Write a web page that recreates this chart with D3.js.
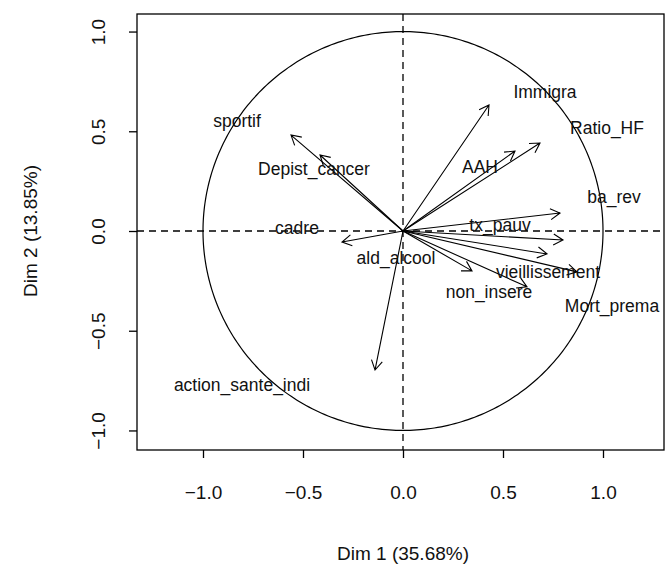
<!DOCTYPE html>
<html><head><meta charset="utf-8">
<script src="https://cdn.jsdelivr.net/npm/d3@7"></script>
<style>html,body{margin:0;padding:0;background:#fff;}svg{display:block;font-family:"Liberation Sans",Arial,sans-serif;}</style>
</head><body>
<svg id="chart" width="665" height="580"></svg>
<script>
// Variables (PCA correlation circle)
const variables = ["sportif","Depist_cancer","cadre","action_sante_indi","Immigra","AAH","Ratio_HF","ba_rev","tx_pauv","Mort_prema","vieillissement","ald_alcool","non_insere"];
const dim1 = [-0.56,-0.415,-0.305,-0.14,0.43,0.56,0.685,0.785,0.80,0.72,0.87,0.345,0.62];
const dim2 = [0.481,0.381,-0.055,-0.697,0.632,0.401,0.441,0.09,-0.045,-0.115,-0.205,-0.20,-0.28];
// label anchor points (data units), as placed in the reference
const labelDim1 = [-0.83,-0.445,-0.53,-0.805,0.71,0.385,1.02,1.055,0.485,1.045,0.725,-0.035,0.43];
const labelDim2 = [0.551,0.311,0.015,-0.772,0.697,0.321,0.516,0.17,0.03,-0.376,-0.205,-0.135,-0.306];
const tickValues = [-1.0,-0.5,0.0,0.5,1.0];
const xTitle = "Dim 1 (35.68%)";
const yTitle = "Dim 2 (13.85%)";

const svg = d3.select("#chart");
const L = 137, R = 664, T = 14, B = 450;
const x = d3.scaleLinear().domain([-1.33, 1.305]).range([L, R]);
const y = d3.scaleLinear().domain([-1.098, 1.088]).range([B, T]);

// circle
const circ = d3.range(0, 361).map(a => [Math.cos(a*Math.PI/180), Math.sin(a*Math.PI/180)]);
svg.append("path").attr("d", d3.line().x(d=>x(d[0])).y(d=>y(d[1]))(circ))
  .attr("fill","none").attr("stroke","#000").attr("stroke-width",1.2);

// dashed zero lines
svg.append("line").attr("x1",L).attr("x2",R).attr("y1",y(0)).attr("y2",y(0))
  .attr("stroke","#000").attr("stroke-width",1.3).attr("stroke-dasharray","7,5");
svg.append("line").attr("x1",x(0)).attr("x2",x(0)).attr("y1",T).attr("y2",B)
  .attr("stroke","#000").attr("stroke-width",1.3).attr("stroke-dasharray","7,5");

// arrows
const headLen = 11, headAng = 30*Math.PI/180;
variables.forEach((v,i)=>{
  const x0=x(0), y0=y(0), x1=x(dim1[i]), y1=y(dim2[i]);
  const ang = Math.atan2(y1-y0, x1-x0);
  const a1 = ang+Math.PI-headAng, a2 = ang+Math.PI+headAng;
  const p = `M${x0},${y0}L${x1},${y1}M${x1+headLen*Math.cos(a1)},${y1+headLen*Math.sin(a1)}L${x1},${y1}L${x1+headLen*Math.cos(a2)},${y1+headLen*Math.sin(a2)}`;
  svg.append("path").attr("d",p).attr("fill","none").attr("stroke","#000").attr("stroke-width",1.1);
});

// labels
variables.forEach((v,i)=>{
  svg.append("text").attr("x",x(labelDim1[i])).attr("y",y(labelDim2[i]))
    .attr("text-anchor","middle").attr("dominant-baseline","central")
    .attr("font-size",17.5).attr("fill","#111").text(v);
});

// box
svg.append("rect").attr("x",L).attr("y",T).attr("width",R-L).attr("height",B-T)
  .attr("fill","none").attr("stroke","#000").attr("stroke-width",1.3);

// axes
const fmt = d3.format(".1f");
const xAxis = svg.append("g").attr("transform",`translate(0,${B})`)
  .call(d3.axisBottom(x).tickValues(tickValues).tickFormat(fmt).tickSize(8).tickPadding(28));
xAxis.select(".domain").remove();
const yAxis = svg.append("g").attr("transform",`translate(${L},0)`)
  .call(d3.axisLeft(y).tickValues(tickValues).tickFormat(fmt).tickSize(8).tickPadding(0));
yAxis.select(".domain").remove();
[xAxis,yAxis].forEach(g=>{
  g.selectAll("line").attr("stroke","#000").attr("stroke-width",1.3);
  g.selectAll("text").attr("font-size",19).attr("font-family","Liberation Sans, Arial, sans-serif").attr("fill","#111");
});
yAxis.selectAll("text").attr("text-anchor","middle").attr("dy",null).attr("dominant-baseline","central")
  .attr("x",0).attr("y",0).attr("transform",`translate(${98-L},0) rotate(-90)`);

svg.append("text").attr("x",x(0)).attr("y",553).attr("text-anchor","middle").attr("dominant-baseline","central")
  .attr("font-size",19).attr("fill","#111").text(xTitle);
svg.append("text").attr("transform",`translate(30,${y(0)}) rotate(-90)`).attr("text-anchor","middle")
  .attr("dominant-baseline","central").attr("font-size",19).attr("fill","#111").text(yTitle);
</script>
</body></html>
